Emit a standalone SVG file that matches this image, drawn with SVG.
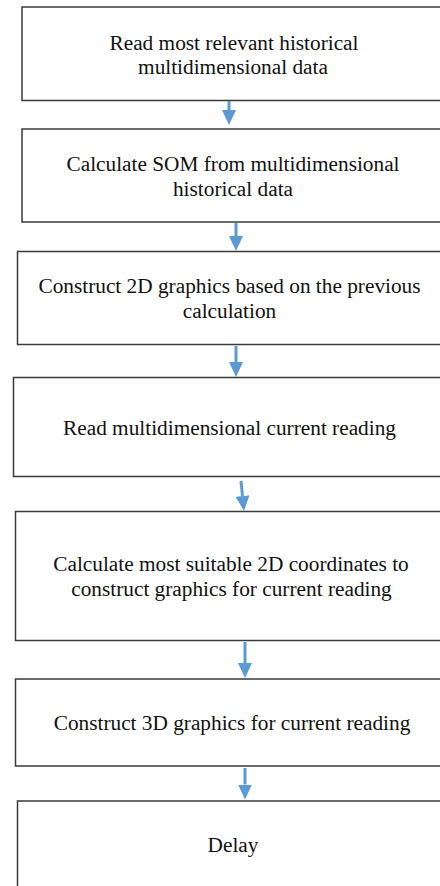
<svg xmlns="http://www.w3.org/2000/svg" width="440" height="886" viewBox="0 0 440 886">
<style>
.box{fill:#fff;stroke:#3a3a3a;stroke-width:1.5}
.t{font-family:'Liberation Serif','Times New Roman',Times,serif;font-size:21.3px;fill:#111;text-anchor:middle}
.c{stroke:#5b9bd5;stroke-width:3;fill:none}
</style>
<defs>
<marker id="ah" markerUnits="userSpaceOnUse" markerWidth="15" markerHeight="14" refX="0" refY="7" orient="auto">
<path d="M0,0 L15,7 L0,14 z" fill="#5b9bd5"/>
</marker>
</defs>
<rect width="440" height="886" fill="#fff"/>
<g id="n1"><rect class="box" x="22" y="7" width="430" height="93.5"/>
<text class="t" x="234" y="49.5">Read most relevant historical</text>
<text class="t" x="233" y="74">multidimensional data</text></g>
<g id="n2"><rect class="box" x="22" y="129" width="430" height="93"/>
<text class="t" x="233" y="170.5">Calculate SOM from multidimensional</text>
<text class="t" x="233" y="195.5">historical data</text></g>
<g id="n3"><rect class="box" x="17.5" y="251.5" width="430" height="93"/>
<text class="t" x="229.5" y="292.5">Construct 2D graphics based on the previous</text>
<text class="t" x="229.5" y="317.5">calculation</text></g>
<g id="n4"><rect class="box" x="13.5" y="377.5" width="430" height="99"/>
<text class="t" x="229.5" y="435">Read multidimensional current reading</text></g>
<g id="n5"><rect class="box" x="15.5" y="511.5" width="430" height="129"/>
<text class="t" x="231" y="571">Calculate most suitable 2D coordinates to</text>
<text class="t" x="231.5" y="596">construct graphics for current reading</text></g>
<g id="n6"><rect class="box" x="15.5" y="679" width="430" height="87"/>
<text class="t" x="232" y="730">Construct 3D graphics for current reading</text></g>
<g id="n7"><rect class="box" x="17.5" y="801" width="430" height="100"/>
<text class="t" x="233" y="852">Delay</text></g>
<g id="connectors">
<line class="c" x1="229" y1="101" x2="229" y2="110" marker-end="url(#ah)"/>
<line class="c" x1="236" y1="223" x2="236" y2="236" marker-end="url(#ah)"/>
<line class="c" x1="236" y1="346" x2="236" y2="362" marker-end="url(#ah)"/>
<line class="c" x1="241" y1="481" x2="242.5" y2="496" marker-end="url(#ah)"/>
<line class="c" x1="245" y1="642" x2="245" y2="663" marker-end="url(#ah)"/>
<line class="c" x1="245" y1="768" x2="245" y2="784.5" marker-end="url(#ah)"/>
</g>
</svg>
